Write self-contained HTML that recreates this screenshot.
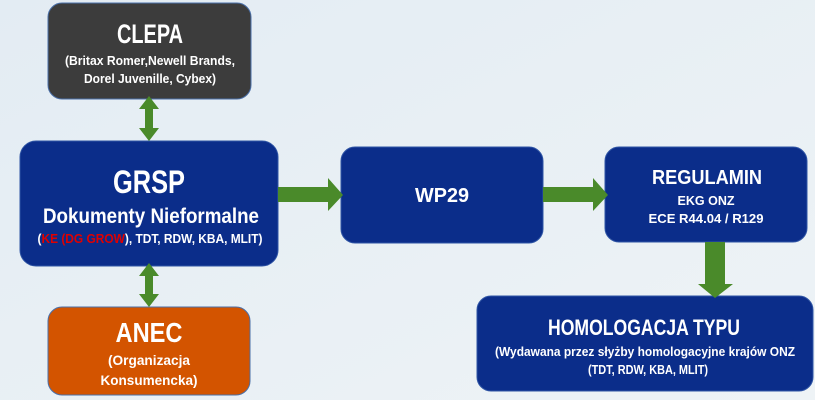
<!DOCTYPE html>
<html><head><meta charset="utf-8"><style>
html,body{margin:0;padding:0;width:815px;height:400px;overflow:hidden;background:#e9f0f5}
svg{display:block}
text{font-family:"Liberation Sans",sans-serif;font-weight:bold;fill:#fff;text-anchor:middle}
</style></head><body>
<svg width="815" height="400" viewBox="0 0 815 400">
<defs><linearGradient id="bg" x1="0" y1="0" x2="1" y2="1"><stop offset="0" stop-color="#e3ecf3"/><stop offset="1" stop-color="#eef3f6"/></linearGradient></defs>
<rect width="815" height="400" fill="url(#bg)"/>
<rect x="48" y="3" width="203" height="96" rx="14" fill="#3c3c3c" stroke="#4a6fa8" stroke-width="1"/>
<rect x="20" y="141" width="258" height="125" rx="16" fill="#0b2d8a" stroke="#2f55a5" stroke-width="1"/>
<rect x="48" y="307" width="202" height="88" rx="14" fill="#d35400" stroke="#4a6fa8" stroke-width="1"/>
<rect x="341" y="147" width="202" height="96" rx="14" fill="#0b2d8a" stroke="#2f55a5" stroke-width="1"/>
<rect x="605" y="147" width="202" height="95" rx="14" fill="#0b2d8a" stroke="#2f55a5" stroke-width="1"/>
<rect x="477" y="296" width="336" height="95" rx="14" fill="#0b2d8a" stroke="#2f55a5" stroke-width="1"/>
<g fill="#4a8a2a">
<polygon points="278,187 328,187 328,178 343,195 328,211 328,202 278,202"/>
<polygon points="543,187 593,187 593,178 608,195 593,211 593,202 543,202"/>
<polygon points="705,242 725,242 725,284 733,284 715,298 698,284 705,284"/>
<polygon points="149,96 159,109 153,109 153,128 159,128 149,141 139,128 145,128 145,109 139,109"/>
<polygon points="149,263 159,276 153,276 153,294 159,294 149,307 139,294 145,294 145,276 139,276"/>
</g>
<g lengthAdjust="spacingAndGlyphs">
<text x="150" y="43" font-size="27" textLength="66" lengthAdjust="spacingAndGlyphs">CLEPA</text>
<text x="150" y="65" font-size="13" textLength="170" lengthAdjust="spacingAndGlyphs">(Britax Romer,Newell Brands,</text>
<text x="150" y="83" font-size="13" textLength="132" lengthAdjust="spacingAndGlyphs">Dorel Juvenille, Cybex)</text>
<text x="149" y="193" font-size="32" textLength="72" lengthAdjust="spacingAndGlyphs">GRSP</text>
<text x="151" y="223" font-size="21" textLength="216" lengthAdjust="spacingAndGlyphs">Dokumenty Nieformalne</text>
<text x="150" y="243" font-size="13" textLength="225" lengthAdjust="spacingAndGlyphs">(<tspan fill="#e00000">KE (DG GROW</tspan>), TDT, RDW, KBA, MLIT)</text>
<text x="149" y="342" font-size="28" textLength="67" lengthAdjust="spacingAndGlyphs">ANEC</text>
<text x="149" y="365" font-size="14" textLength="82" lengthAdjust="spacingAndGlyphs">(Organizacja</text>
<text x="149" y="385" font-size="14" textLength="97" lengthAdjust="spacingAndGlyphs">Konsumencka)</text>
<text x="442" y="202" font-size="20" textLength="54" lengthAdjust="spacingAndGlyphs">WP29</text>
<text x="707" y="184" font-size="20" textLength="110" lengthAdjust="spacingAndGlyphs">REGULAMIN</text>
<text x="706" y="205" font-size="13" textLength="57" lengthAdjust="spacingAndGlyphs">EKG ONZ</text>
<text x="706" y="223" font-size="13" textLength="115" lengthAdjust="spacingAndGlyphs">ECE R44.04 / R129</text>
<text x="644" y="335" font-size="22" textLength="192" lengthAdjust="spacingAndGlyphs">HOMOLOGACJA TYPU</text>
<text x="645" y="356" font-size="12.5" textLength="300" lengthAdjust="spacingAndGlyphs">(Wydawana przez słyżby homologacyjne krajów ONZ</text>
<text x="648" y="374" font-size="12.5" textLength="120" lengthAdjust="spacingAndGlyphs">(TDT, RDW, KBA, MLIT)</text>
</g>
</svg>
</body></html>
